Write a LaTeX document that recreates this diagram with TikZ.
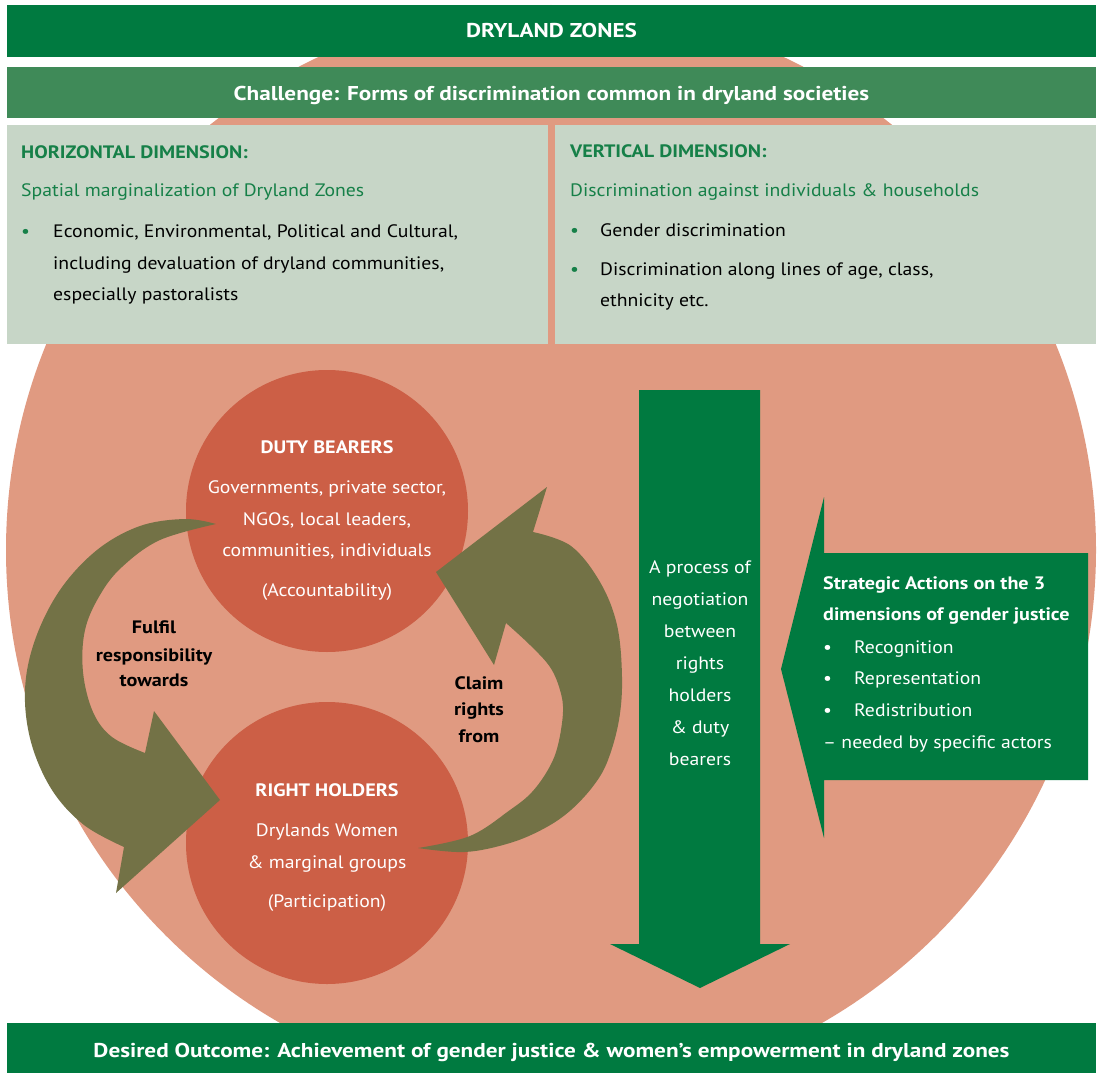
\documentclass[tikz,border=0pt]{standalone}
\usepackage{fontspec}
\setmainfont{PT Sans}[FakeStretch=1.095]
\newfontfamily\boldf{PT Sans}[FakeStretch=1.12]
\newfontfamily\barf{PT Sans}[FakeStretch=1.16]
\definecolor{dkgreen}{RGB}{0,122,64}
\definecolor{mdgreen}{RGB}{63,138,88}
\definecolor{panel}{RGB}{199,214,199}
\definecolor{salmon}{RGB}{224,154,129}
\definecolor{brick}{RGB}{204,95,70}
\definecolor{olivearr}{RGB}{115,114,70}
\definecolor{txtgreen}{RGB}{22,128,72}
\begin{document}
\begin{tikzpicture}[x=1pt,y=-1pt,
  lbl/.style={inner sep=0pt, text height=0.7em, text depth=0.2em, yshift=-4.5pt, font=\fontsize{18}{22}\selectfont},
  lblb/.style={lbl, font=\boldf\fontsize{18}{22}\selectfont\bfseries},
  barlbl/.style={inner sep=0pt, text height=0.7em, text depth=0.2em, yshift=-4.5pt, text=white, font=\barf\fontsize{20}{24}\selectfont\bfseries},
  wht/.style={lbl, text=white},
  whtb/.style={lblb, text=white},
  grn/.style={lbl, text=txtgreen, anchor=west},
  grnb/.style={lblb, text=txtgreen, anchor=west},
  blk/.style={lbl, text=black, anchor=west},
  bul/.style={lbl, anchor=west},
  arrowshape/.style={fill=olivearr, draw=none}
]
\useasboundingbox (0,0) rectangle (1098,1073);
\clip (0,0) rectangle (1098,1073);

% big background circle
\node[circle, fill=salmon, draw=none, minimum size=1090pt, inner sep=0pt] (zone) at (551,550) {};

% top bars
\node[fill=dkgreen, minimum width=1089pt, minimum height=52pt, inner sep=0pt] (titlebar) at (551.5,31) {};
\node[barlbl] (title) at (551.5,31) {DRYLAND ZONES};
\node[fill=mdgreen, minimum width=1089pt, minimum height=51pt, inner sep=0pt] (chalbar) at (551.5,92.5) {};
\node[barlbl] (chal) at (551.5,93) {Challenge: Forms of discrimination common in dryland societies};

% panels
\node[fill=panel, minimum width=541pt, minimum height=219pt, inner sep=0pt, anchor=north west] (lpanel) at (7,125) {};
\node[fill=panel, minimum width=541pt, minimum height=219pt, inner sep=0pt, anchor=north west] (rpanel) at (555,125) {};

\node[grnb] (hdim) at (21,151) {HORIZONTAL DIMENSION:};
\node[grn] (hsub) at (21,189) {Spatial marginalization of Dryland Zones};
\node[bul, text=txtgreen] (hb1) at (21,230) {\textbullet};
\node[blk] (h1) at (53,230) {Economic, Environmental, Political and Cultural,};
\node[blk] (h2) at (53,262) {including devaluation of dryland communities,};
\node[blk] (h3) at (53,293) {especially pastoralists};

\node[grnb] (vdim) at (570,150) {VERTICAL DIMENSION:};
\node[grn] (vsub) at (570,189) {Discrimination against individuals \& households};
\node[bul, text=txtgreen] (vb1) at (570,229) {\textbullet};
\node[blk] (v1) at (600,229) {Gender discrimination};
\node[bul, text=txtgreen] (vb2) at (570,268) {\textbullet};
\node[blk] (v2) at (600,268) {Discrimination along lines of age, class,};
\node[blk] (v3) at (600,299) {ethnicity etc.};

% duty bearers / right holders circles
\node[circle, fill=brick, minimum size=282pt, inner sep=0pt] (duty) at (327,511) {};
\node[circle, fill=brick, minimum size=282pt, inner sep=0pt] (right) at (327,843) {};

% curved arrows
\fill[arrowshape] plot[smooth, tension=0.6] coordinates {(216,524) (185,519) (140,526) (97,550) (60,590) (35,640) (25,690) (31,742) (52,790) (84,825) (124,847)}
  -- (116,893) -- (220,800) -- (154,711)
  -- plot[smooth, tension=0.6] coordinates {(145,753) (112,737) (93,712) (83,672) (85,630) (100,595) (122,567) (160,540) (216,524)} -- cycle;

\fill[arrowshape] plot[smooth, tension=0.6] coordinates {(418,848) (465,852) (510,843) (545,828) (571,810) (594,785) (608,760) (619,720) (622,677) (617,625) (600,582) (571,546) (533,532)}
  -- (547,487) -- (436,572) -- (494,665)
  -- plot[smooth, tension=0.6] coordinates {(506,623) (530,645) (550,667) (560,690) (563,712) (558,745) (549,768) (532,792) (510,810) (470,836) (418,848)} -- cycle;

% circle texts
\node[whtb] (dutyt) at (327,446) {DUTY BEARERS};
\node[wht] (duty1) at (327,486) {Governments, private sector,};
\node[wht] (duty2) at (327,518) {NGOs, local leaders,};
\node[wht] (duty3) at (327,549) {communities, individuals};
\node[wht] (duty4) at (327,589) {(Accountability)};

\node[whtb] (rightt) at (327,789) {RIGHT HOLDERS};
\node[wht] (right1) at (327,829) {Drylands Women};
\node[wht] (right2) at (327,861) {\& marginal groups};
\node[wht] (right3) at (327,900) {(Participation)};

% arrow labels
\node[lblb] (ful1) at (154,626) {Fulfil};
\node[lblb] (ful2) at (154,654) {responsibility};
\node[lblb] (ful3) at (154,679) {towards};
\node[lblb] (cl1) at (479,682) {Claim};
\node[lblb] (cl2) at (479,708) {rights};
\node[lblb] (cl3) at (479,735) {from};

% green down arrow
\fill[dkgreen] (639,390) -- (760,390) -- (760,944) -- (790,944) -- (700,988) -- (610,944) -- (639,944) -- cycle;
\node[wht] (p1) at (700,566) {A process of};
\node[wht] (p2) at (700,598) {negotiation};
\node[wht] (p3) at (700,630) {between};
\node[wht] (p4) at (700,662) {rights};
\node[wht] (p5) at (700,694) {holders};
\node[wht] (p6) at (700,726) {\& duty};
\node[wht] (p7) at (700,758) {bearers};

% callout
\fill[dkgreen] (824,497) -- (824,553) -- (1088,553) -- (1088,780) -- (824,780) -- (824,838) -- (781,669) -- cycle;
\node[whtb, anchor=west] (s1) at (823,582) {Strategic Actions on the 3};
\node[whtb, anchor=west] (s2) at (823,613) {dimensions of gender justice};
\node[wht, anchor=west] (sb1) at (823,646) {\textbullet};
\node[wht, anchor=west] (s3) at (854,646) {Recognition};
\node[wht, anchor=west] (sb2) at (823,677) {\textbullet};
\node[wht, anchor=west] (s4) at (854,677) {Representation};
\node[wht, anchor=west] (sb3) at (823,709) {\textbullet};
\node[wht, anchor=west] (s5) at (854,709) {Redistribution};
\node[wht, anchor=west] (s6) at (823,741) {-- needed by specific actors};

% bottom bar
\node[fill=dkgreen, minimum width=1089pt, minimum height=50pt, inner sep=0pt, anchor=north] (outbar) at (551.5,1023) {};
\node[barlbl] (outt) at (551.5,1050) {Desired Outcome: Achievement of gender justice \& women’s empowerment in dryland zones};
\end{tikzpicture}
\end{document}
